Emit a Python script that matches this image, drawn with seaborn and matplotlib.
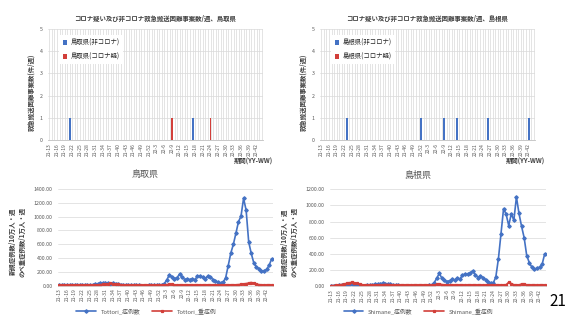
import seaborn as sns
import matplotlib.pyplot as plt
import pandas as pd

# 週ラベル (YY-WW)
weeks_2021 = list(range(13, 53))
weeks_2022 = list(range(1, 45))
weeks = [f'21-{w}' for w in weeks_2021] + [f'22-{w}' for w in weeks_2022]

# 救急搬送困難事案 (件/週) - 1件あった週
tottori_non_weeks = ['21-21', '22-17']
tottori_sus_weeks = ['22-9', '22-24']
shimane_non_weeks = ['21-23', '21-52', '22-9', '22-14', '22-26', '22-42']
shimane_sus_weeks = []

# 新規症例数/10万人・週, のべ重症例数/1万人・週
tottori_cases = [15, 12, 10, 8, 8, 6, 5, 5, 4, 5, 6, 8, 10, 14,
                 18, 25, 35, 40, 45, 38, 30, 35, 30, 22, 15, 10,
                 8, 6, 5, 4, 3, 3, 2, 2, 2, 3, 3, 4, 5, 8,
                 15, 31, 80, 161, 128, 104, 118, 166, 128, 89, 99, 89, 99, 89, 137, 137, 128, 104, 137, 128, 89, 70,
                 48, 35, 48, 115, 290, 470, 597, 757, 925, 1007, 1264, 1094, 635, 467, 330, 272, 249, 210, 214, 235, 297, 390]
tottori_severe = [8, 8, 6, 6, 8, 10, 8, 6, 5, 5, 5, 6, 6, 8,
                  10, 12, 15, 18, 22, 28, 32, 30, 25, 20, 15, 10,
                  8, 6, 5, 5, 5, 5, 5, 5, 5, 5, 5, 6, 6, 8,
                  10, 12, 15, 20, 18, 12, 10, 10, 8, 10, 12, 10, 8, 8, 8, 8, 8, 10, 10, 8, 8, 6,
                  6, 6, 6, 8, 8, 10, 10, 12, 15, 20, 25, 30, 38, 46, 38, 25, 15, 10, 8, 6, 6, 6]
shimane_cases = [5, 5, 6, 8, 10, 12, 15, 18, 20, 15, 10, 8, 6, 6,
                 8, 10, 15, 20, 25, 28, 32, 30, 25, 20, 15, 10,
                 8, 6, 5, 5, 5, 4, 4, 4, 4, 5, 5, 6, 8, 12,
                 40, 95, 158, 96, 75, 54, 67, 83, 75, 96, 83, 137, 146, 150, 158, 190, 140, 105, 125, 105, 80, 55,
                 35, 35, 115, 340, 650, 960, 890, 750, 895, 815, 1105, 900, 740, 600, 378, 290, 233, 208, 220, 233, 270, 400]
shimane_severe = [5, 5, 8, 12, 18, 25, 32, 40, 45, 40, 32, 22, 15, 10,
                  10, 8, 8, 8, 10, 12, 15, 18, 18, 15, 12, 10,
                  8, 8, 8, 10, 10, 8, 8, 8, 8, 8, 8, 8, 10, 10,
                  12, 20, 25, 18, 12, 10, 8, 8, 10, 10, 8, 8, 8, 10, 12, 10, 8, 8, 8, 8, 8, 8,
                  8, 8, 8, 8, 10, 12, 15, 46, 30, 15, 10, 12, 25, 20, 15, 12, 10, 8, 8, 8, 8, 10]

BLUE = '#4472C4'
RED = '#D23F3A'
GRAY = '#595959'
GRID = '#D9D9D9'

sns.set_style('white')
plt.rcParams['font.family'] = ['Noto Sans CJK JP', 'DejaVu Sans']

fig = plt.figure(figsize=(5.69, 3.20), dpi=100)
ax_tl = fig.add_axes([48/569, 1-140/320, 215/569, 111/320])
ax_tr = fig.add_axes([320/569, 1-140/320, 215/569, 111/320])
ax_bl = fig.add_axes([58/569, 1-285.7/320, 215/569, 96.7/320])
ax_br = fig.add_axes([330/569, 1-286/320, 216/569, 96.7/320])


def week_ticks(ax):
    ax.set_xticks(range(len(weeks)))
    ax.set_xticklabels([w if i % 3 == 0 else '' for i, w in enumerate(weeks)],
                       rotation=90, fontsize=3.6, color=GRAY)
    ax.set_xlim(-0.5, len(weeks) - 0.5)
    ax.tick_params(length=0, pad=2)
    ax.set_xlabel('')


def bar_chart(ax, pref, non_weeks, sus_weeks):
    lab_non = f'{pref}(非コロナ)'
    lab_sus = f'{pref}(コロナ疑)'
    df = pd.DataFrame({
        'week': weeks * 2,
        'count': [1 if w in non_weeks else 0 for w in weeks] + [1 if w in sus_weeks else 0 for w in weeks],
        'series': [lab_non] * len(weeks) + [lab_sus] * len(weeks),
    })
    sns.barplot(data=df, x='week', y='count', hue='series', order=weeks,
                hue_order=[lab_non, lab_sus], palette=[BLUE, RED], saturation=1,
                dodge=False, width=0.75, linewidth=0, ax=ax)
    week_ticks(ax)
    ax.set_ylim(0, 5)
    ax.set_yticks(range(6))
    ax.tick_params(axis='y', labelsize=3.8, labelcolor=GRAY, pad=4)
    ax.grid(True, color=GRID, linewidth=0.5)
    ax.set_axisbelow(True)
    sns.despine(ax=ax, left=True)
    ax.spines['bottom'].set_color('#BFBFBF')
    ax.spines['bottom'].set_linewidth(0.6)
    ax.set_ylabel('救急搬送困難事案数(件/週)', fontsize=4.6, fontweight='bold', color='#404040')
    ax.yaxis.set_label_coords(-0.06, 0.43)
    ax.set_title(f'コロナ疑い及び非コロナ救急搬送困難事案数/週、{pref}',
                 fontsize=4.6, fontweight='bold', color='#404040', pad=6)
    ax.text(1.045, -0.195, '期間(YY-WW)', transform=ax.transAxes, ha='right', va='center',
            fontsize=4.6, fontweight='bold', color='#404040')
    sns.move_legend(ax, 'upper left', bbox_to_anchor=(0.035, 0.975), title=None,
                    fontsize=4.6, frameon=True, framealpha=1, edgecolor='none',
                    handlelength=0.7, handleheight=0.7, handletextpad=0.5,
                    labelspacing=0.9, borderpad=0.6)


def line_chart(ax, pref, name, cases, severe, ymax):
    lab_c = f'{name}_症例数'
    lab_s = f'{name}_重症例'
    df = pd.DataFrame({
        'week': weeks * 2,
        'value': cases + severe,
        'series': [lab_c] * len(weeks) + [lab_s] * len(weeks),
    })
    sns.pointplot(data=df, x='week', y='value', hue='series', order=weeks,
                  hue_order=[lab_c, lab_s], palette=[BLUE, RED],
                  markers=['D', 's'], linestyles='-', errorbar=None,
                  markersize=1.8, linewidth=1.2, ax=ax)
    week_ticks(ax)
    ax.set_ylim(0, ymax)
    ax.set_yticks(range(0, ymax + 1, 200))
    ax.set_yticklabels([f'{v:.2f}' for v in range(0, ymax + 1, 200)])
    ax.tick_params(axis='y', labelsize=3.8, labelcolor=GRAY, pad=4)
    ax.grid(True, axis='y', color=GRID, linewidth=0.5)
    ax.set_axisbelow(True)
    sns.despine(ax=ax, left=True)
    ax.spines['bottom'].set_color(GRID)
    ax.spines['bottom'].set_linewidth(0.6)
    ax.set_ylabel('新規症例数/10万人・週\nのべ重症例数/1万人・週', fontsize=4.6,
                  fontweight='bold', color='#404040', linespacing=1.3)
    ax.yaxis.set_label_coords(-0.152, 0.455)
    ax.text(0.405, 1.145, pref, transform=ax.transAxes, ha='center', va='center',
            fontsize=6.5, color=GRAY)
    sns.move_legend(ax, 'center', bbox_to_anchor=(0.41, -0.26), ncol=2, title=None,
                    fontsize=4.2, frameon=False, handlelength=3.4, columnspacing=2.0,
                    labelcolor=GRAY)


bar_chart(ax_tl, '鳥取県', tottori_non_weeks, tottori_sus_weeks)
bar_chart(ax_tr, '島根県', shimane_non_weeks, shimane_sus_weeks)
line_chart(ax_bl, '鳥取県', 'Tottori', tottori_cases, tottori_severe, 1400)
line_chart(ax_br, '島根県', 'Shimane', shimane_cases, shimane_severe, 1200)

fig.text(558/569, 1-301.5/320, '21', ha='center', va='center', fontsize=11, color='black')

fig.savefig('out.png', dpi=100)
